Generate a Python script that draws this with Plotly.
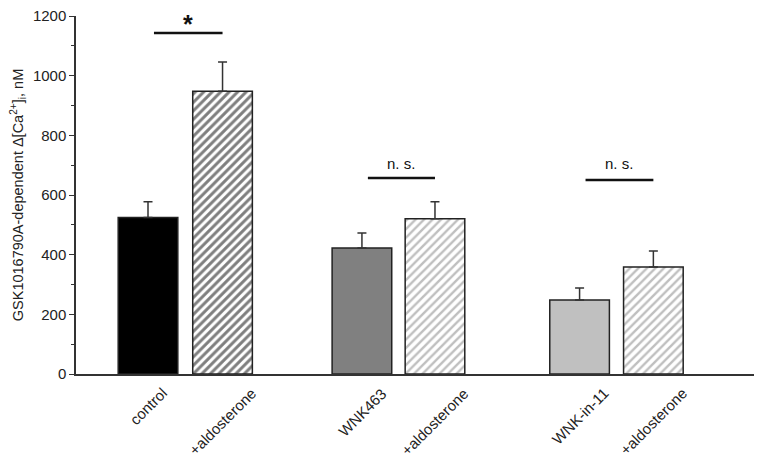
import plotly.graph_objects as go

labels = ["control", "+aldosterone", "WNK463", "+aldosterone", "WNK-in-11", "+aldosterone"]
positions = [0, 1, 2.87, 3.85, 5.79, 6.78]
means = [525, 948, 422, 520, 248, 359]
errors = [52, 98, 51, 57, 40, 53]
fill_colors = ["#000000", "#ffffff", "#808080", "#ffffff", "#c0c0c0", "#ffffff"]
hatch = ["", "/", "", "/", "", "/"]
hatch_colors = ["#000000", "#000000", "#808080", "#808080", "#808080", "#808080"]
hatch_solidity = [0.3, 0.5, 0.3, 0.4, 0.3, 0.4]

sig_pairs = [(0, 1), (2, 3), (4, 5)]
sig_text = ["*", "n. s.", "n. s."]
sig_line_y = [1143, 657, 650]
sig_text_y = [1200, 704, 704]

fig = go.Figure()
for i in range(len(labels)):
    fig.add_trace(go.Bar(
        x=[positions[i]], y=[means[i]], width=0.8,
        marker=dict(
            color=fill_colors[i],
            line=dict(color="#222222", width=1.5),
            pattern=dict(shape=hatch[i], fgcolor=hatch_colors[i], bgcolor="#ffffff",
                         size=6, solidity=hatch_solidity[i]),
        ),
        error_y=dict(type="data", symmetric=False, array=[errors[i]],
                     arrayminus=[0], color="#333333", thickness=1.5, width=4.5),
        showlegend=False,
    ))

for (a, b), t, ly, ty in zip(sig_pairs, sig_text, sig_line_y, sig_text_y):
    x0 = positions[a] + 0.08
    x1 = positions[b]
    fig.add_shape(type="line", x0=x0, x1=x1, y0=ly, y1=ly,
                  line=dict(color="#111111", width=2.5))
    if t == "*":
        fig.add_annotation(x=(x0 + x1) / 2, y=ty / 1200, yref="paper", text="<b>*</b>",
                           showarrow=False, yanchor="top", yshift=8,
                           font=dict(size=25, color="#111111", family="Liberation Sans"))
    else:
        fig.add_annotation(x=(x0 + x1) / 2, y=ty / 1200, yref="paper", text=t,
                           showarrow=False, yanchor="middle",
                           font=dict(size=15, color="#111111", family="Liberation Sans"))

for p, lab in zip(positions, labels):
    fig.add_annotation(x=p, y=0, yref="paper", text=lab, showarrow=False,
                       textangle=-45, xanchor="center", yanchor="top",
                       yshift=-8, font=dict(size=15, color="#222222"))

fig.update_layout(
    width=754, height=452,
    margin=dict(l=68, r=8, t=8, b=86, autoexpand=False),
    plot_bgcolor="white", paper_bgcolor="white",
    font=dict(family="Liberation Sans, Arial, sans-serif", color="#222222"),
    xaxis=dict(
        range=[-0.966, 8.13], showticklabels=False, ticks="",
        showgrid=False, zeroline=False, automargin=False,
        showline=True, linecolor="#333333", linewidth=1.5,
    ),
    yaxis=dict(
        range=[0, 1200], tickvals=[0, 200, 400, 600, 800, 1000, 1200],
        ticks="outside", ticklen=5, tickcolor="#333333", tickwidth=1.2,
        minor=dict(dtick=100, ticks="outside", ticklen=3, tickcolor="#333333"),
        showgrid=False, zeroline=False, showline=True, linecolor="#333333",
        linewidth=1.5, tickfont=dict(size=15), automargin=False,
        ticklabeloverflow="allow",
        title=dict(text="GSK1016790A-dependent Δ[Ca<sup>2+</sup>]<sub>i</sub>, nM",
                   font=dict(size=14.5), standoff=16),
    ),
)

fig.write_html("out.html")
